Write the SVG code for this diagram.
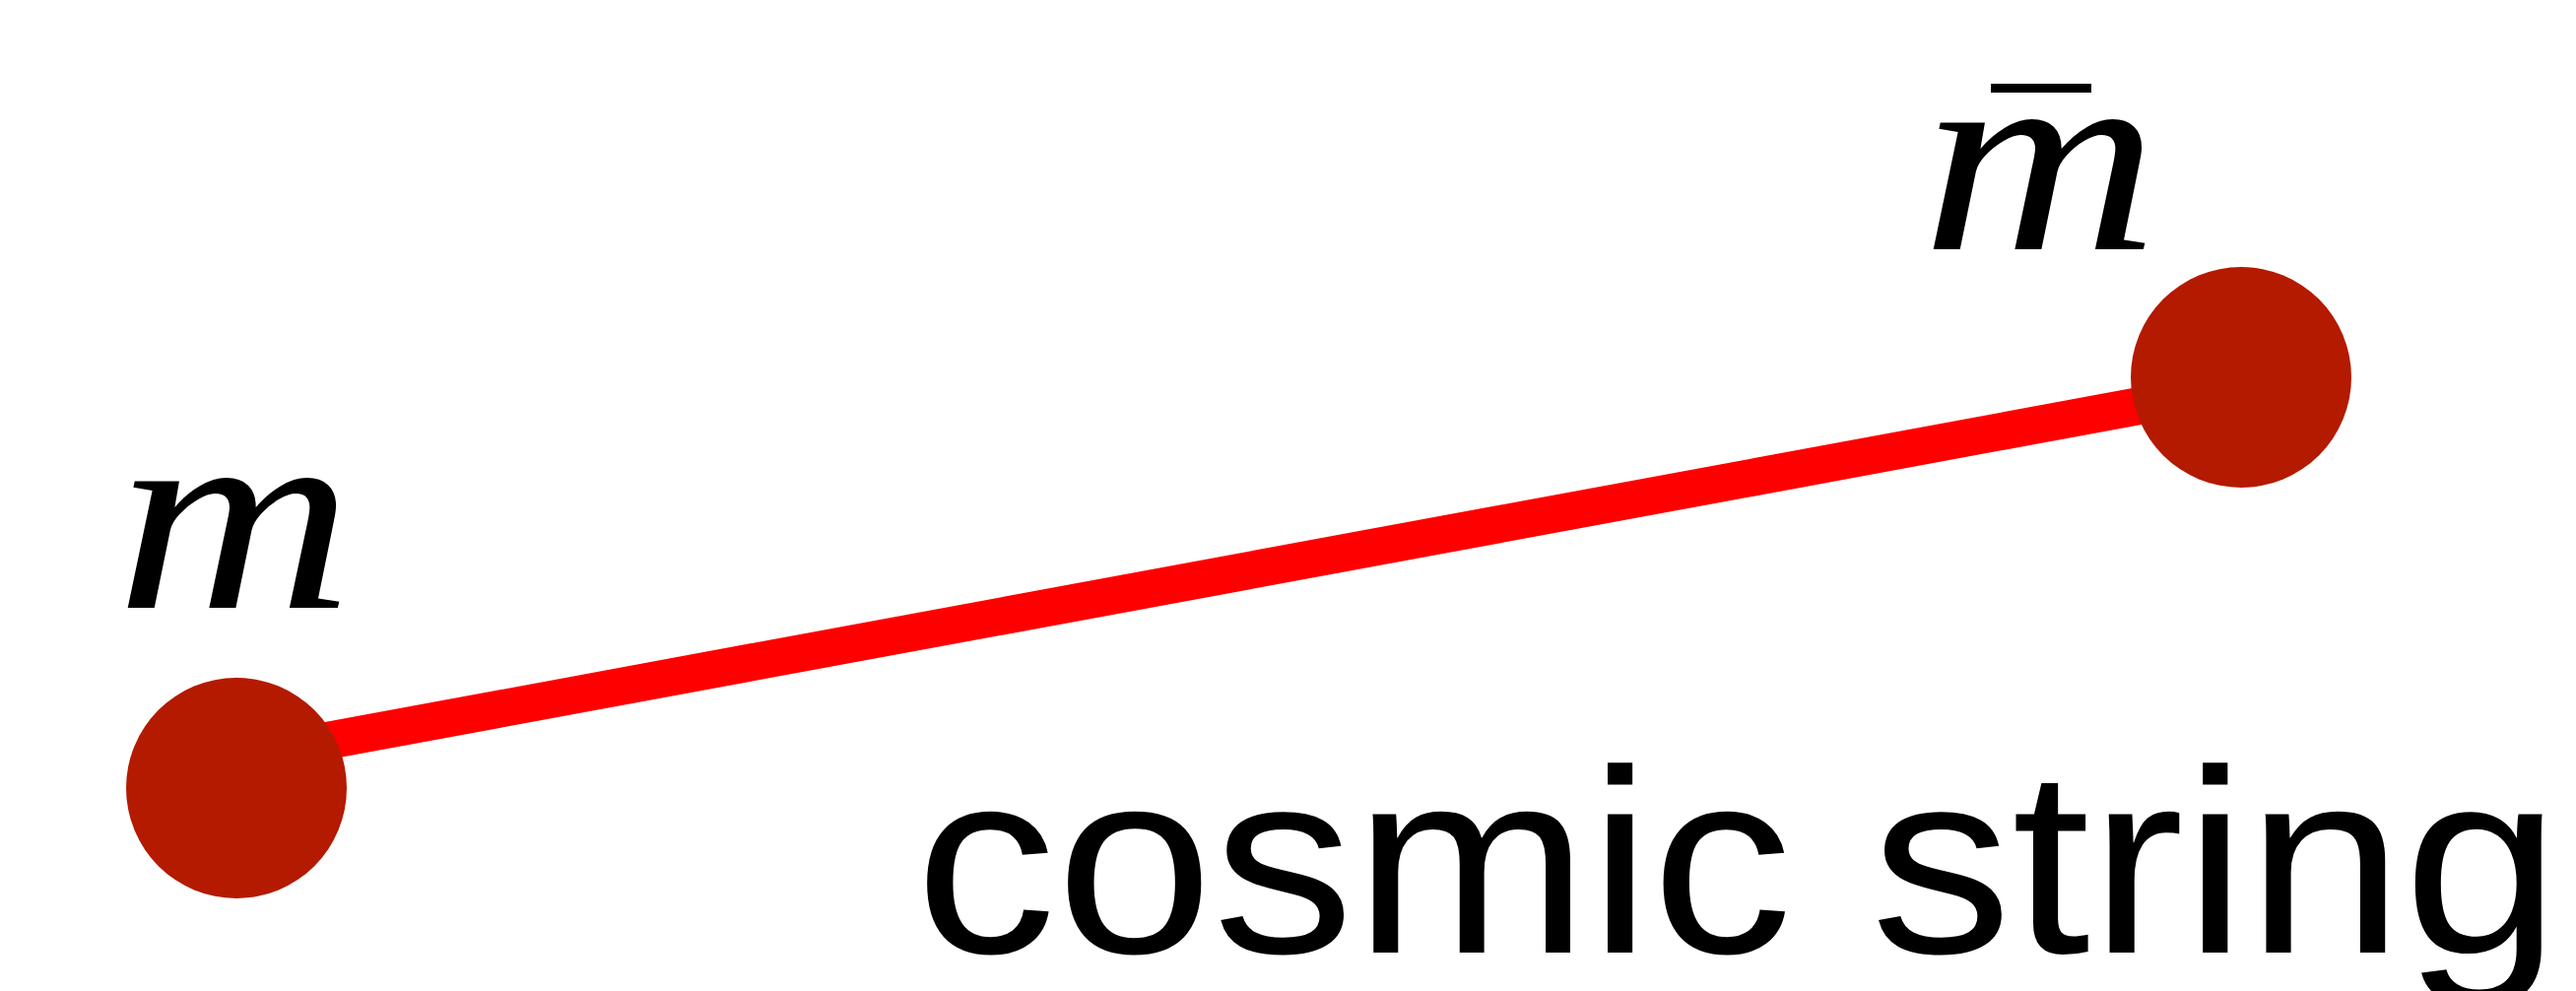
<svg xmlns="http://www.w3.org/2000/svg" width="2615" height="1006" viewBox="0 0 2615 1006">
  <style>
    .node { fill: #B41A00; }
    .string { stroke: #FF0000; stroke-width: 38; fill: none; }
    .mass { font-family: "Liberation Serif", "DejaVu Serif", serif; font-style: italic; font-size: 280px; fill: #000; }
    .caption { font-family: "Liberation Sans", Arial, sans-serif; font-size: 266px; fill: #000; }
  </style>
  <rect x="0" y="0" width="2615" height="1006" fill="#FFFFFF"/>
  <g id="connectors">
    <line class="string" x1="240" y1="769" x2="2275" y2="393"/>
  </g>
  <g id="node-m">
    <circle class="node" cx="240" cy="800" r="112"/>
    <text class="mass" transform="translate(238,617) scale(1.19,1)" x="0" y="0" text-anchor="middle">m</text>
  </g>
  <g id="node-mbar">
    <circle class="node" cx="2275" cy="383" r="112"/>
    <text class="mass" transform="translate(2071,253) scale(1.19,1)" x="0" y="0" text-anchor="middle">m</text>
    <rect x="2021" y="85" width="102" height="9" fill="#000"/>
  </g>
  <g id="label">
    <text class="caption" x="929" y="967" textLength="1670" lengthAdjust="spacingAndGlyphs">cosmic string</text>
  </g>
</svg>
